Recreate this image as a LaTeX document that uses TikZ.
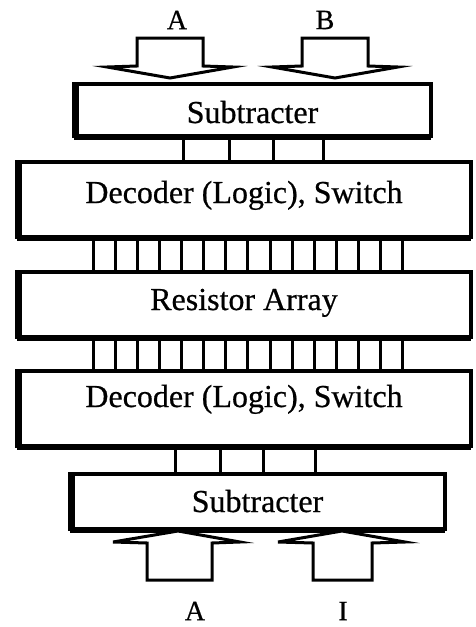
\documentclass[tikz,border=0pt]{standalone}
\usepackage{fontspec}
\setmainfont{Liberation Serif}
\newfontfamily\scanfont{Liberation Serif}[FakeBold=0.6]
\begin{document}
\begin{tikzpicture}[x=1pt,y=-1pt,
  blk/.style={draw=black, line width=3.2pt, inner sep=0pt, outer sep=0pt, anchor=base, font=\scanfont\fontsize{32}{32}\selectfont},
  wire/.style={line width=3pt},
  fat/.style={line width=6pt},
  blockarrow/.style={draw=black, line width=3pt, fill=white, line join=miter},
  lbl/.style={font=\scanfont\fontsize{28}{28}\selectfont, inner sep=0pt}]
\useasboundingbox (0,0) rectangle (476,627);
% blocks
\node[blk, minimum width=357pt, text height=39pt, text depth=13pt] (sub1) at (252.5,123) {Subtracter};
\node[blk, minimum width=454pt, text height=41pt, text depth=34pt] (dec1) at (244,203) {Decoder (Logic), Switch};
\node[blk, minimum width=454pt, text height=38pt, text depth=27pt] (res) at (244,310) {Resistor Array};
\node[blk, minimum width=454pt, text height=36pt, text depth=39pt] (dec2) at (244,407) {Decoder (Logic), Switch};
\node[blk, minimum width=375pt, text height=38pt, text depth=17pt] (sub2) at (257.5,512) {Subtracter};
% thick left and bottom edges
\foreach \n in {sub1,dec1,res,dec2,sub2}{
  \draw[fat] ([xshift=1.5pt]\n.north west) -- ([xshift=1.5pt]\n.south west);
  \draw[line width=5pt] ([yshift=-1pt]\n.south west) -- ([yshift=-1pt]\n.south east);
}
% wires sub1 -> dec1
\foreach \x in {183,229,273,323}
  \draw[wire] (sub1.south -| \x,0) -- (dec1.north -| \x,0);
% bus dec1 -> res and res -> dec2
\foreach \i in {0,...,14}{
  \pgfmathsetmacro{\xx}{93+22.14*\i}
  \draw[wire] (dec1.south -| \xx,0) -- (res.north -| \xx,0);
  \draw[wire] (res.south -| \xx,0) -- (dec2.north -| \xx,0);
}
% wires dec2 -> sub2
\foreach \x in {175,220,263,315}
  \draw[wire] (dec2.south -| \x,0) -- (sub2.north -| \x,0);
% labels
\node[lbl] (inA) at (177,20) {A};
\node[lbl] (inB) at (325,20) {B};
\node[lbl] (inA2) at (195,611) {A};
\node[lbl] (inI) at (343,611) {I};
% top block arrows
\draw[blockarrow] (137,38) -- (203,38) -- (203,66) -- (233,67) -- (170,78) -- (107,67) -- (137,66) -- cycle;
\draw[blockarrow] (302,38) -- (368,38) -- (368,66) -- (398,67) -- (335,78) -- (272,67) -- (302,66) -- cycle;
% bottom block arrows
\draw[blockarrow] (147,580) -- (212,580) -- (212,543) -- (240,542) -- (178,531) -- (113,542) -- (147,543) -- cycle;
\draw[blockarrow] (313,580) -- (372,580) -- (372,543) -- (405,542) -- (342,531) -- (278,542) -- (313,543) -- cycle;
\end{tikzpicture}
\end{document}
